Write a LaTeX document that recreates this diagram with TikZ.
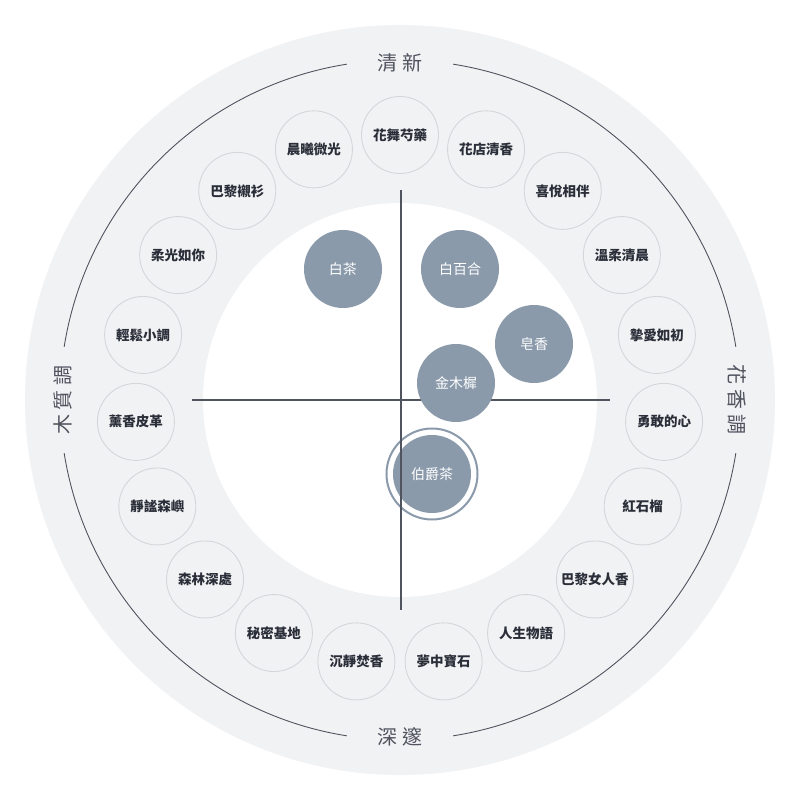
\documentclass[tikz,border=0pt]{standalone}
\usepackage{fontspec}
\usepackage{xcolor}
\newfontfamily\cjk{Noto Sans CJK TC}
\newfontfamily\cjkwide[LetterSpace=25]{Noto Sans CJK TC}
\definecolor{panel}{HTML}{F1F2F4}
\definecolor{rim}{HTML}{D5D6DA}
\definecolor{ink}{HTML}{2A2E38}
\definecolor{dusk}{HTML}{8A9AAB}
\definecolor{axisline}{HTML}{50545F}

\begin{document}
\begin{tikzpicture}[x=1pt,y=1pt]
\tikzset{note/.style = {circle, draw=rim, line width=0.9pt, minimum size=77pt, inner sep=0pt,
		text=ink, font=\cjk\bfseries\fontsize{13.5}{15}\selectfont},
	scent/.style = {circle, fill=dusk, minimum size=78pt, inner sep=0pt,
		text=white, font=\cjk\fontsize{14}{16}\selectfont},
	pole/.style = {text=axisline, inner sep=0pt, font=\cjkwide\fontsize{20}{22}\selectfont}}
\useasboundingbox (-400,-400) rectangle (400,400);
\fill[panel] (0,0) circle[radius=375];
\fill[white] (0,0) circle[radius=197];
% outer guide ring, broken at the four poles
\draw[axisline, line width=0.9pt] (81:340) arc[start angle=81, end angle=9, radius=340];
\draw[axisline, line width=0.9pt] (-9:340) arc[start angle=-9, end angle=-81, radius=340];
\draw[axisline, line width=0.9pt] (-99:340) arc[start angle=-99, end angle=-171, radius=340];
\draw[axisline, line width=0.9pt] (171:340) arc[start angle=171, end angle=99, radius=340];
\node[pole] (fresh) at (0,337) {清新};
\node[pole] (deep) at (0,-337) {深邃};
\node[pole, rotate=90] (woody) at (-337,0) {木質調};
\node[pole, rotate=-90] (floral) at (337,0) {花香調};
% ring of perfumes
\node[note] (p0) at (90:265) {花舞芍藥};
\node[note] (p1) at (71.05:265) {花店清香};
\node[note] (p2) at (52.11:265) {喜悅相伴};
\node[note] (p3) at (33.16:265) {溫柔清晨};
\node[note] (p4) at (14.21:265) {摯愛如初};
\node[note] (p5) at (-4.74:265) {勇敢的心};
\node[note] (p6) at (-23.68:265) {紅石榴};
\node[note] (p7) at (-42.63:265) {巴黎女人香};
\node[note] (p8) at (-61.58:265) {人生物語};
\node[note] (p9) at (-80.53:265) {夢中寶石};
\node[note] (p10) at (-99.47:265) {沉靜焚香};
\node[note] (p11) at (-118.42:265) {秘密基地};
\node[note] (p12) at (-137.37:265) {森林深處};
\node[note] (p13) at (-156.32:265) {靜謐森嶼};
\node[note] (p14) at (-175.26:265) {薰香皮革};
\node[note] (p15) at (165.79:265) {輕鬆小調};
\node[note] (p16) at (146.84:265) {柔光如你};
\node[note] (p17) at (127.89:265) {巴黎襯衫};
\node[note] (p18) at (108.95:265) {晨曦微光};
% axes
\coordinate (west) at (-208,0);
\coordinate (east) at (210,0);
\coordinate (north) at (1,210);
\coordinate (south) at (1,-210);
\draw[axisline, line width=1.1pt] (west) -- (east);
% notes inside
\node[scent] (whitetea) at (-57,131) {白茶};
\node[scent] (lily) at (60,131) {白百合};
\node[scent] (soap) at (134,56) {皂香};
\node[scent] (osmanthus) at (56,17) {金木樨};
\node[scent] (earlgrey) at (32,-74) {伯爵茶};
\draw[dusk, line width=2pt] (earlgrey) circle[radius=45.5];
\draw[axisline, line width=1.1pt] (north) -- (south);
\end{tikzpicture}
\end{document}
